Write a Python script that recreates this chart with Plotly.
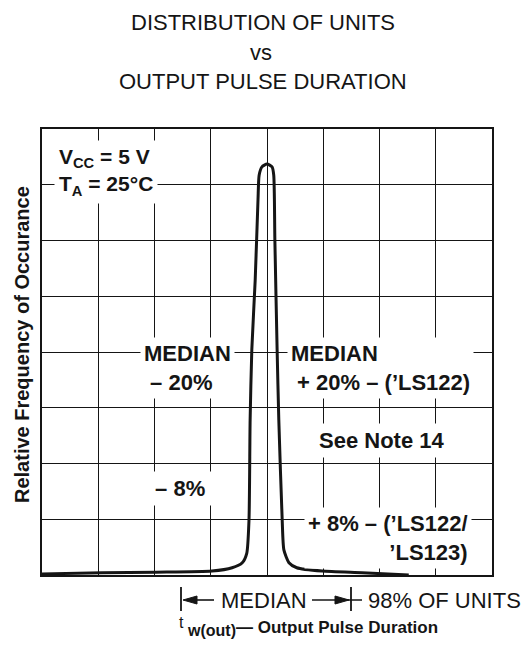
import plotly.graph_objects as go

# ---- data ----
pulse_duration = [0.0, 1.07, 2.03, 3.02, 3.38, 3.56, 3.64, 3.68, 3.70, 3.73, 3.79, 3.84, 3.86,
                  3.91, 4.00, 4.09, 4.12, 4.14, 4.18, 4.21, 4.27, 4.30, 4.39, 4.53, 4.98, 5.69, 6.52]
rel_frequency = [0.02, 0.04, 0.05, 0.07, 0.13, 0.22, 0.39, 0.99, 2.78, 4.04, 5.29, 6.73, 7.17,
                 7.32, 7.37, 7.32, 7.17, 6.01, 4.04, 2.78, 0.99, 0.45, 0.22, 0.13, 0.07, 0.04, 0.0]
grid_divisions = 8

title_lines = ["DISTRIBUTION OF UNITS", "vs", "OUTPUT PULSE DURATION"]
y_title = "Relative Frequency of Occurance"

FONT = "Liberation Sans, Arial, Helvetica, sans-serif"
INK = "#151515"

fig = go.Figure()
fig.add_trace(go.Scatter(
    x=pulse_duration, y=rel_frequency, mode="lines",
    line=dict(color=INK, width=3, shape="spline", smoothing=0.6),
    hoverinfo="skip", showlegend=False))

axis_common = dict(range=[0, grid_divisions], dtick=1, showticklabels=False, ticks="",
                   showgrid=True, gridcolor=INK, gridwidth=1.4, zeroline=False,
                   showline=True, linecolor=INK, linewidth=2, mirror=True, fixedrange=True)
fig.update_xaxes(**axis_common)
fig.update_yaxes(**axis_common)

ann = []
def A(text, x, y, xref="x", yref="y", size=22, bold=False, xanchor="center", yanchor="middle",
      align="center", bg=None, pad=1, angle=0, color=INK):
    t = f"<b>{text}</b>" if bold else text
    d = dict(text=t, x=x, y=y, xref=xref, yref=yref, showarrow=False, xanchor=xanchor,
             yanchor=yanchor, align=align, textangle=angle, borderpad=pad,
             font=dict(family=FONT, size=size, color=color))
    if bg:
        d["bgcolor"] = bg
    ann.append(d)

# titles
A(title_lines[0], 0.491, 1.2399, xref="paper", yref="paper", size=22)
A(title_lines[1], 0.487, 1.1726, xref="paper", yref="paper", size=22)
A(title_lines[2], 0.491, 1.1076, xref="paper", yref="paper", size=22)

# y title
A(y_title, -0.0444, 0.5157, xref="paper", yref="paper", size=20, bold=True, angle=-90)

# conditions
A("V<sub>CC</sub> = 5 V<br>T<sub>A</sub> = 25°C", 0.22, 7.23, size=21, bold=True,
  xanchor="left", align="left", bg="white", pad=4)

# in-plot labels
A("MEDIAN<br> – 20%", 1.74, 3.71, size=22, bold=True, xanchor="left", align="left", bg="white", pad=3)
A("MEDIAN<br> + 20% – (’LS122)", 4.36, 3.71, size=22, bold=True, xanchor="left", align="left",
  bg="white", pad=3)
A("See Note 14", 6.03, 2.42, size=22, bold=True, bg="white", pad=4)
A(" – 8% ", 2.45, 1.56, size=22, bold=True, bg="white", pad=4)
A("+ 8% – (’LS122/<br>’LS123)", 7.64, 0.67, size=22, bold=True, xanchor="right", align="right",
  bg="white", pad=3)

# bottom row: |<-MEDIAN->| 98% OF UNITS
def px2x(px):
    return (px - 42) / 56.25
def py2p(py):
    return (575 - py) / 446

A("MEDIAN", px2x(263.5), py2p(600), xref="x", yref="paper", size=22)
A("98% OF UNITS", px2x(366), py2p(600), xref="x", yref="paper", size=22, xanchor="left")

shapes = []
line_style = dict(color=INK, width=1.8)
for bx in [181, 351]:
    shapes.append(dict(type="line", xref="x", yref="paper", x0=px2x(bx), x1=px2x(bx),
                       y0=py2p(587), y1=py2p(611), line=line_style))
# arrow stems
for a, b in [(194, 214), (312, 362)]:
    shapes.append(dict(type="line", xref="x", yref="paper", x0=px2x(a), x1=px2x(b),
                       y0=py2p(600), y1=py2p(600), line=dict(color=INK, width=1.6)))
# arrow heads
for tip, base in [(183, 197), (349, 335)]:
    path = (f"M {px2x(tip)},{py2p(600)} L {px2x(base)},{py2p(596)} "
            f"L {px2x(base)},{py2p(604)} Z")
    shapes.append(dict(type="path", xref="x", yref="paper", path=path,
                       fillcolor=INK, line=dict(color=INK, width=1)))

# x title
A("t", px2x(177), py2p(622), xref="x", yref="paper", size=16, xanchor="left")
A("w(out)", px2x(185), py2p(630), xref="x", yref="paper", size=16, bold=True, xanchor="left")
A("— Output Pulse Duration", px2x(234), py2p(627), xref="x", yref="paper", size=17, bold=True,
  xanchor="left")

fig.update_layout(width=529, height=648, margin=dict(l=42, r=37, t=129, b=73),
                  paper_bgcolor="white", plot_bgcolor="white",
                  annotations=ann, shapes=shapes)

fig.write_html("out.html")
